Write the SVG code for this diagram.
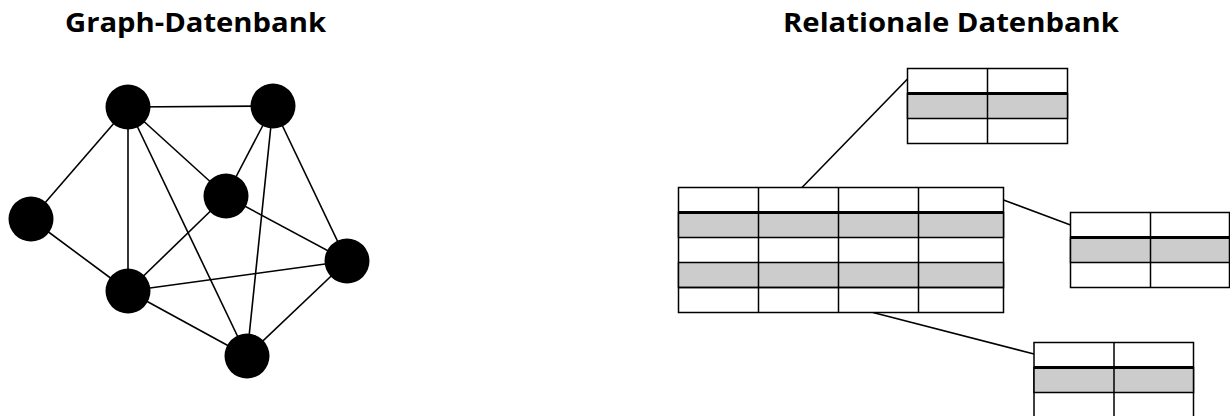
<svg xmlns="http://www.w3.org/2000/svg" width="1230" height="416" viewBox="0 0 1230 416">
<style>
.title{font-family:"Open Sans","Noto Sans","DejaVu Sans",sans-serif;font-weight:bold;font-size:27px;fill:#000;text-anchor:middle}
.edge{stroke:#000;stroke-width:1.6;fill:none}
.node{fill:#000}
.cell{fill:#fff;stroke:#000;stroke-width:1.5}
.grey{fill:#cccccc;stroke:#000;stroke-width:1.5}
.thick{stroke:#000;stroke-width:3.2}
.link{stroke:#000;stroke-width:1.6;fill:none}
</style>
<rect width="1230" height="416" fill="#fff"/>
<text class="title" x="195.5" y="32" textLength="261" lengthAdjust="spacingAndGlyphs">Graph-Datenbank</text>
<text class="title" x="951" y="32" textLength="336" lengthAdjust="spacingAndGlyphs">Relationale Datenbank</text>

<g id="graph-edges">
<line class="edge" x1="128" y1="107" x2="273" y2="106"/>
<line class="edge" x1="128" y1="107" x2="31" y2="219"/>
<line class="edge" x1="128" y1="107" x2="128" y2="291"/>
<line class="edge" x1="128" y1="107" x2="247" y2="356"/>
<line class="edge" x1="128" y1="107" x2="226" y2="196"/>
<line class="edge" x1="273" y1="106" x2="226" y2="196"/>
<line class="edge" x1="273" y1="106" x2="247" y2="356"/>
<line class="edge" x1="273" y1="106" x2="347" y2="261"/>
<line class="edge" x1="226" y1="196" x2="128" y2="291"/>
<line class="edge" x1="226" y1="196" x2="347" y2="261"/>
<line class="edge" x1="31" y1="219" x2="128" y2="291"/>
<line class="edge" x1="128" y1="291" x2="347" y2="261"/>
<line class="edge" x1="128" y1="291" x2="247" y2="356"/>
<line class="edge" x1="247" y1="356" x2="347" y2="261"/>
</g>
<g id="nA"><circle class="node" cx="128" cy="107" r="22.5"/></g>
<g id="nB"><circle class="node" cx="273" cy="106" r="22.5"/></g>
<g id="nC"><circle class="node" cx="226" cy="196" r="22.5"/></g>
<g id="nD"><circle class="node" cx="31" cy="219" r="22.5"/></g>
<g id="nE"><circle class="node" cx="128" cy="291" r="22.5"/></g>
<g id="nF"><circle class="node" cx="347" cy="261" r="22.5"/></g>
<g id="nG"><circle class="node" cx="247" cy="356" r="22.5"/></g>

<g id="connectors">
<line class="link" x1="802" y1="187.5" x2="907.5" y2="79"/>
<line class="link" x1="1003.5" y1="200" x2="1070.5" y2="225"/>
<line class="link" x1="873" y1="312.5" x2="1034" y2="354"/>
</g>

<g id="main-table">
<rect class="cell" x="678.5" y="187.5" width="325" height="125"/>
<rect class="grey" x="678.5" y="212.5" width="325" height="25"/>
<rect class="grey" x="678.5" y="262.5" width="325" height="25"/>
<line class="cell" x1="678.5" y1="287.5" x2="1003.5" y2="287.5"/>
<line class="cell" x1="758.5" y1="187.5" x2="758.5" y2="312.5"/>
<line class="cell" x1="838.5" y1="187.5" x2="838.5" y2="312.5"/>
<line class="cell" x1="918.5" y1="187.5" x2="918.5" y2="312.5"/>
<line class="thick" x1="678.5" y1="212.5" x2="1003.5" y2="212.5"/>
</g>

<g id="top-table">
<rect class="cell" x="907.5" y="68.5" width="160" height="75"/>
<rect class="grey" x="907.5" y="93.5" width="160" height="25"/>
<line class="cell" x1="987.5" y1="68.5" x2="987.5" y2="143.5"/>
<line class="thick" x1="907.5" y1="93.5" x2="1067.5" y2="93.5"/>
</g>

<g id="right-table">
<rect class="cell" x="1070.5" y="212.5" width="159" height="75"/>
<rect class="grey" x="1070.5" y="237.5" width="159" height="25"/>
<line class="cell" x1="1150.5" y1="212.5" x2="1150.5" y2="287.5"/>
<line class="thick" x1="1070.5" y1="237.5" x2="1229.5" y2="237.5"/>
</g>

<g id="bottom-table">
<rect class="cell" x="1034" y="342.5" width="159.5" height="80"/>
<rect class="grey" x="1034" y="367.5" width="159.5" height="25"/>
<line class="cell" x1="1114" y1="342.5" x2="1114" y2="420"/>
<line class="thick" x1="1034" y1="367.5" x2="1193.5" y2="367.5"/>
</g>
</svg>
